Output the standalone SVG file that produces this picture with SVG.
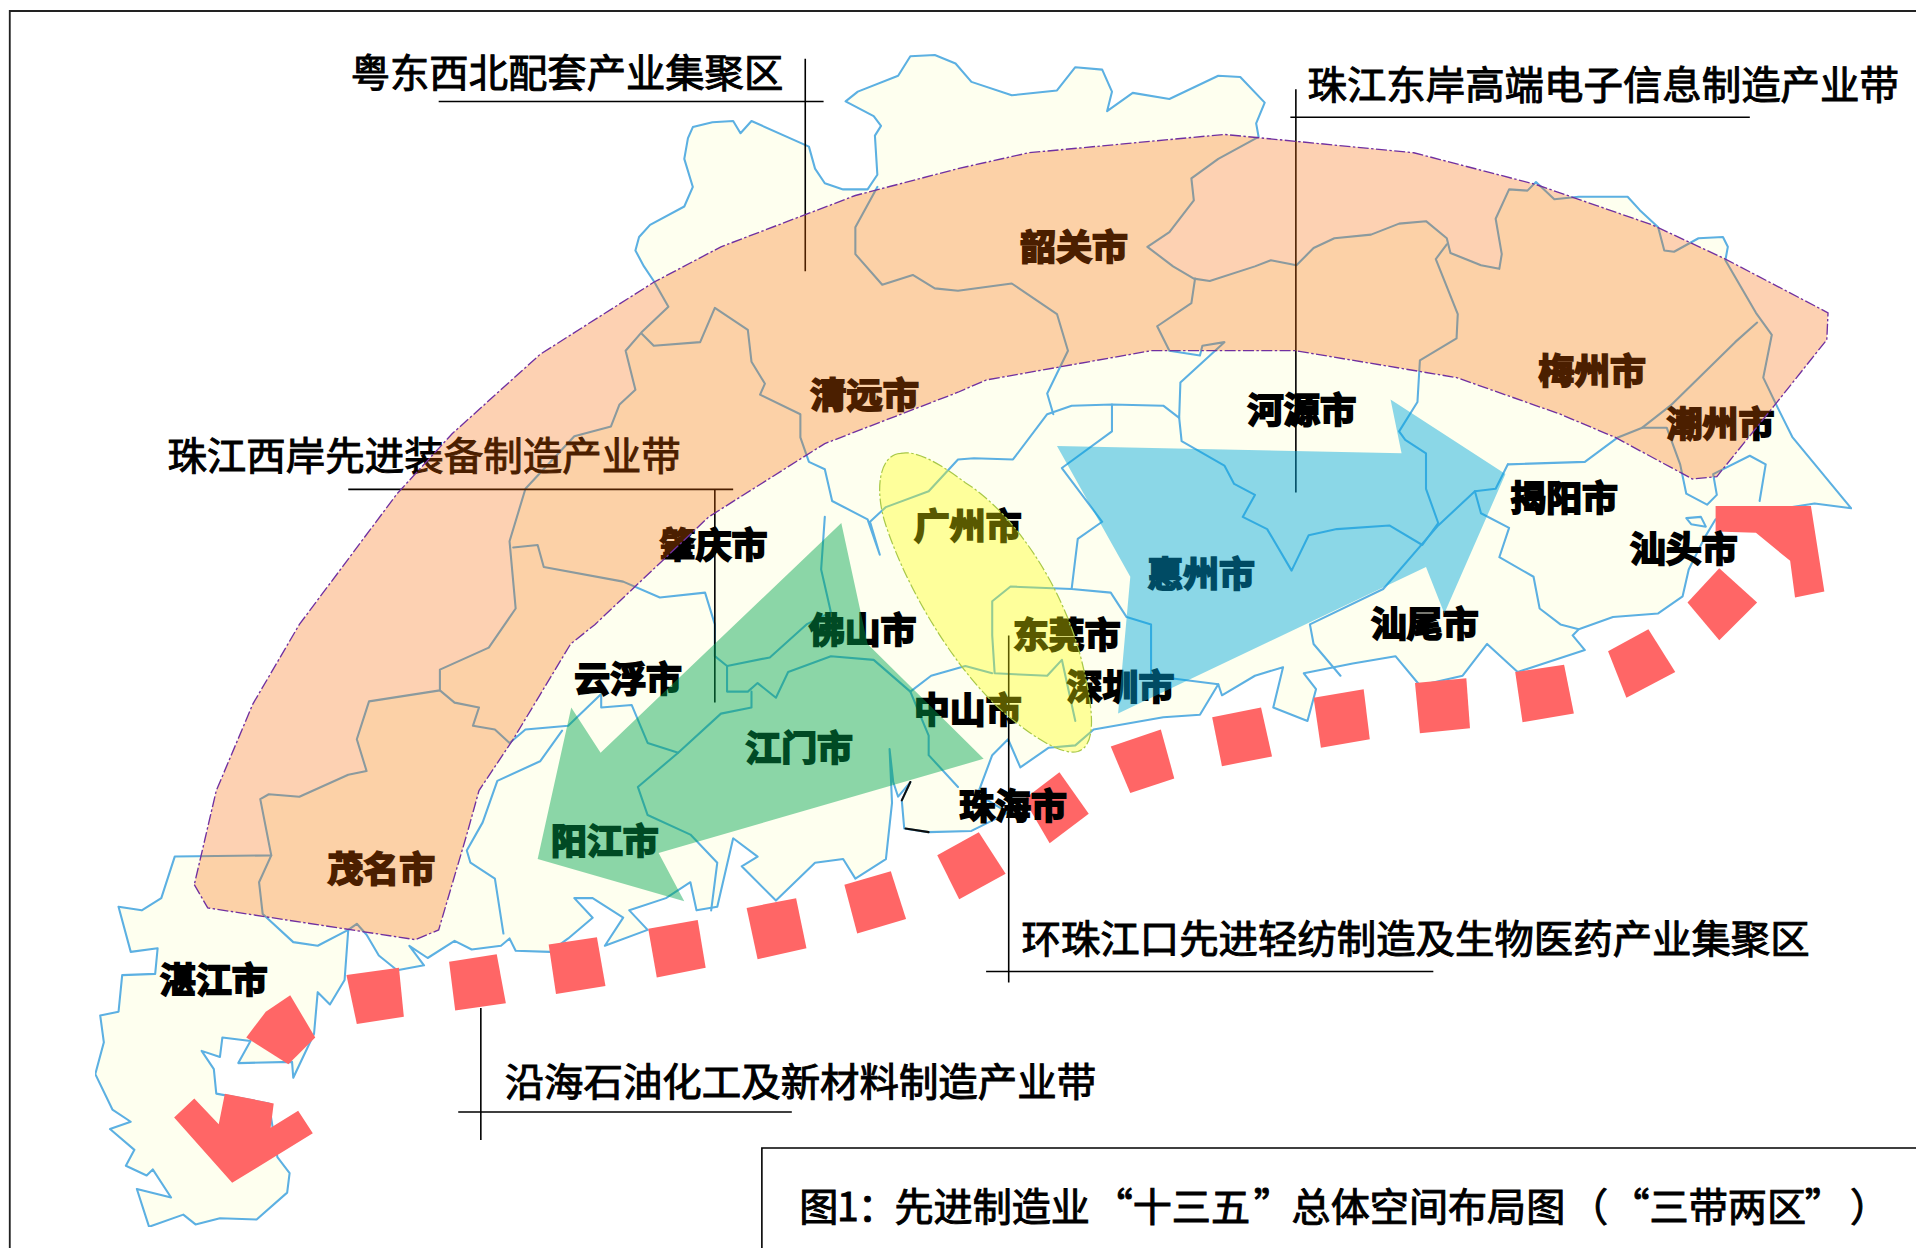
<svg xmlns="http://www.w3.org/2000/svg" width="1916" height="1248" viewBox="0 0 1916 1248">
<style>
.map{fill:#feffef;stroke:#5cb0e2;stroke-width:1.7;stroke-linejoin:round;stroke-linecap:round}
.riv{fill:none;stroke:#5cb0e2;stroke-width:1.7;stroke-linejoin:round;stroke-linecap:round}
.red{fill:#ff6666}
.lead{stroke:#000;stroke-width:1.3;fill:none}
.t{font-family:"Noto Sans CJK SC","Liberation Sans",sans-serif;font-size:32px;fill:#000;stroke:#000;stroke-width:.8}
.c{font-family:"Noto Sans CJK SC","Liberation Sans",sans-serif;font-size:29px;font-weight:700;fill:#000;stroke:#000;stroke-width:1.6}
</style>
<defs><filter id="soft" x="0" y="0" width="1" height="1"><feGaussianBlur stdDeviation=".45"/></filter></defs>
<rect width="1916" height="1248" fill="#fff"/>
<g transform="scale(1.22194)">
<path d="M8,1022V9H1568" fill="none" stroke="#222" stroke-width="1.5"/>
<g id="map" filter="url(#soft)">
<path class="map" d="M535,230L527,218L520,205L523,194L532,184L560,169L567,153L560,130L563,113L567,104L583,100L600,99L606,109L615,99L662,120L667,138L675,150L690,155L710,155L718,143L716,111L721,103L715,95L692,83L702,75L735,62L745,46L765,45L782,52L795,67L828,78L865,74L880,55L902,57L910,75L906,91L927,76L957,81L997,62L1015,63L1035,84L1028,101L1030,112L997,130L975,146L977,164L957,190L939,202L960,218L977,228L990,230L1027,218L1040,213L1061,217L1075,203L1092,195L1122,192L1145,183L1167,181L1184,195L1187,207L1212,217L1227,220L1229,208L1224,179L1235,155L1250,156L1257,149L1272,163L1292,161L1332,161L1342,172L1357,186L1362,205L1370,206L1390,195L1410,194L1414,202L1412,213L1437,256L1450,274L1443,309L1455,334L1467,358L1515,416L1485,412L1404,425L1395,440L1382,466L1377,488L1357,502L1320,505L1292,515L1287,520L1297,532L1242,550L1217,527L1197,553L1162,561L1142,537L1107,543L1067,551L1077,564L1070,590L1042,579L1050,546L1027,553L1000,569L997,560L982,585L952,587L895,597L880,610L858,612L835,628L825,605L812,618L800,650L825,665L795,680L760,681L740,678L738,655L745,640L735,652L731,640L728,613L730,657L725,703L700,719L690,703L667,706L635,737L607,709L620,701L600,686L587,742L570,745L565,722L545,735L515,745L530,761L495,774L510,751L485,735L470,735L485,751L465,768L450,779L422,778L417,768L410,774L386,777L372,770L350,784L335,774L347,790L325,794L310,782L300,765L292,756L285,761L282,802L270,822L260,812L257,846L240,882L239,869L195,870L205,852L182,849L180,865L165,860L175,875L177,895L220,903L227,947L237,960L235,976L210,998L180,997L160,1002L150,994L122,1004L112,973L140,980L125,957L120,962L103,954L110,941L90,924L107,918L92,908L78,879L85,853L82,831L97,828L100,798L127,797L129,776L107,779L97,742L116,745L132,735L143,701L222,700L213,654L220,650L245,652L285,634L300,631L292,605L302,574L360,565L360,548L400,530L422,498L417,443L430,400L470,357L500,349L507,331L520,319L512,287L525,272L547,251Z"/>
<path class="riv" d="M525,273L535,283L573,280L585,252L612,270L615,296L626,314L622,323L655,339L655,358L662,378L675,384L681,410L710,425L720,454L712,427L725,415L760,402L784,376L797,375L829,376L857,339L877,332L910,331L952,332L965,342L966,313L1002,280L984,283L982,291L957,287L947,267L975,248L978,228"/>
<path class="riv" d="M718,153L700,186L700,208L722,233L747,225L765,236L784,238L828,232L865,257L874,287L857,322L862,339"/>
<path class="riv" d="M1184,200L1175,212L1193,257L1192,277L1162,295L1160,329L1145,353L1150,360L1167,371L1167,400L1177,428L1164,446L1137,430L1094,433L1071,438L1057,467L1037,433L1017,423L1027,405L1010,396L1002,381L967,361L965,342"/>
<path class="riv" d="M910,331L910,353L869,383L902,427L882,441L877,482L909,485L922,505L942,511L942,553L997,560"/>
<path class="riv" d="M877,482L827,480L812,492L812,520L814,551L857,553L869,540L880,590"/>
<path class="riv" d="M1234,380L1297,378L1324,358L1344,350L1364,350L1375,380L1380,404L1397,413L1405,405L1402,388L1432,373L1445,380L1440,410"/>
<path class="riv" d="M1234,380L1224,400L1207,402L1177,430L1132,482L1072,511L1075,527L1097,553"/>
<path class="riv" d="M1207,402L1212,420L1235,432L1227,456L1255,472L1260,498L1277,511L1292,515"/>
<path class="riv" d="M1344,350L1367,332L1420,280L1438,264"/>
<path class="riv" d="M420,448L440,446L445,464L510,476L540,489L577,485L585,511L585,537L595,545L630,538L660,511L680,501L672,466L675,423"/>
<path class="riv" d="M595,545L595,566L612,566L620,559L635,571L645,550L680,537L715,540L745,566L760,602L760,618L784,644"/>
<path class="riv" d="M615,566L615,579L590,584L555,616L522,644L530,667L565,683L587,706L582,745"/>
<path class="riv" d="M555,616L530,608L517,577L492,579L492,568L465,594L430,597L417,608L405,597L387,594L392,579L372,575L360,565"/>
<path class="riv" d="M460,598L442,623L407,639L395,673L382,696L385,706L405,719L412,764"/>
<path class="riv" d="M222,700L212,722L215,748L240,771L260,774L285,761"/>
<path class="riv" d="M745,566L762,553L790,545L812,551"/>
<path class="map" d="M1380,424L1392,423L1396,431L1384,429Z"/>
<path class="riv" style="stroke:#111" d="M738,655L745,640M741,678L760,681"/>
</g>
<g id="dashes" class="red">
<polygon points="283.5,798 326.5,792 330.5,832 292,838"/>
<polygon points="367.5,787 406.5,781 414,821 372.5,827"/>
<polygon points="449,773 488.5,767 495.5,807 455,813.5"/>
<polygon points="530.5,760 571,753 577.5,792 537.5,800"/>
<polygon points="611,743 651.5,735 660,776 620,785"/>
<polygon points="691,724 729,713 741.5,752 701.5,764"/>
<polygon points="767,700 801,681 823,715 785,736"/>
<polygon points="867,632 891,666 859,690 838,654"/>
<polygon points="909,611 950,597 961,637 925,649"/>
<polygon points="992,587 1032,579 1041,619 1000,627"/>
<polygon points="1075,571 1116,564 1121,605 1081,612"/>
<polygon points="1158,559 1200,555 1203,596 1162,600"/>
<polygon points="1240,550 1280,544 1288,584 1246,591"/>
<polygon points="1316,533 1349,515 1371,550 1331,571"/>
<polygon points="1407,465 1438,493 1407,524 1381,493"/>
<polygon points="1404,414 1482,414 1493,484 1469,489 1465,459 1437,436 1404,435"/>
<polygon points="237.5,814.5 258,849 236,871 201.5,849 217.5,828"/>
<polygon points="159,899 179,920 184,895 224,903 221.5,923 244,909 256,927.5 190,968 142.5,914.5"/>
</g>
<g id="leaders" class="lead">
<path d="M359,83H674M659,48V222"/>
<path d="M1056,96H1432M1060.500,73V403"/>
<path d="M285,400.500H600M585,400V575"/>
<path d="M807,795H1173M825.500,520V804"/>
<path d="M375,910H648M393.500,825V933"/>
<path d="M623.500,1022V939.500H1568"/>
</g>
<g id="titles" class="t">
<text x="287" y="71" textLength="354" lengthAdjust="spacingAndGlyphs">粤东西北配套产业集聚区</text>
<text x="1070" y="81" textLength="484" lengthAdjust="spacingAndGlyphs">珠江东岸高端电子信息制造产业带</text>
<text x="137" y="385" textLength="420" lengthAdjust="spacingAndGlyphs">珠江西岸先进装备制造产业带</text>
<text x="836" y="780" textLength="645" lengthAdjust="spacingAndGlyphs">环珠江口先进轻纺制造及生物医药产业集聚区</text>
<text x="413" y="897" textLength="484" lengthAdjust="spacingAndGlyphs">沿海石油化工及新材料制造产业带</text>
<text y="999" x="654 685 702 732 764 796 828 860 895 927 959 991 1026 1057 1089 1121 1153 1185 1217 1249 1284 1318 1350 1382 1414 1446 1477 1514">图1：先进制造业“十三五”总体空间布局图（“三带两区”）</text>
</g>
<g id="cities" class="c">
<text x="835" y="213" textLength="88" lengthAdjust="spacingAndGlyphs">韶关市</text>
<text x="663" y="334" textLength="89" lengthAdjust="spacingAndGlyphs">清远市</text>
<text x="540" y="457" textLength="88" lengthAdjust="spacingAndGlyphs">肇庆市</text>
<text x="1021" y="346" textLength="89" lengthAdjust="spacingAndGlyphs">河源市</text>
<text x="1259" y="314" textLength="88" lengthAdjust="spacingAndGlyphs">梅州市</text>
<text x="1364" y="358" textLength="88" lengthAdjust="spacingAndGlyphs">潮州市</text>
<text x="1236" y="418" textLength="88" lengthAdjust="spacingAndGlyphs">揭阳市</text>
<text x="1334" y="460" textLength="88" lengthAdjust="spacingAndGlyphs">汕头市</text>
<text x="748" y="441" textLength="88" lengthAdjust="spacingAndGlyphs">广州市</text>
<text x="939" y="480" textLength="88" lengthAdjust="spacingAndGlyphs">惠州市</text>
<text x="662" y="526" textLength="88" lengthAdjust="spacingAndGlyphs">佛山市</text>
<text x="829" y="530" textLength="88" lengthAdjust="spacingAndGlyphs">东莞市</text>
<text x="1122" y="521" textLength="88" lengthAdjust="spacingAndGlyphs">汕尾市</text>
<text x="873" y="573" textLength="88" lengthAdjust="spacingAndGlyphs">深圳市</text>
<text x="470" y="566" textLength="88" lengthAdjust="spacingAndGlyphs">云浮市</text>
<text x="748" y="592" textLength="88" lengthAdjust="spacingAndGlyphs">中山市</text>
<text x="610" y="623" textLength="88" lengthAdjust="spacingAndGlyphs">江门市</text>
<text x="785" y="670" textLength="88" lengthAdjust="spacingAndGlyphs">珠海市</text>
<text x="451" y="699" textLength="88" lengthAdjust="spacingAndGlyphs">阳江市</text>
<text x="268" y="722" textLength="88" lengthAdjust="spacingAndGlyphs">茂名市</text>
<text x="131" y="813" textLength="88" lengthAdjust="spacingAndGlyphs">湛江市</text>
</g>
<g id="overlays">
<path id="band" fill="#f86600" fill-opacity=".3" stroke="#7030a0" stroke-width="1.1" stroke-dasharray="9 2 2 2" d="M159,724L170,743L340,769L359,761L382,683L392,647L420,605L467,527L487,511L580,423L675,363L784,321L807,311L942,287L1060,287L1192,309L1277,339L1322,358L1385,392L1405,390L1452,332L1495,278L1496,256L1412,212L1352,184L1257,151L1157,125L1002,110L842,125L784,138L700,160L590,202L535,231L442,290L370,355L325,404L245,511L207,576L177,647Z"/>
<polygon id="green" fill="#00a550" fill-opacity=".45" points="688.500,428 710,527 805,621 539,698 560,737.500 440,703 467.500,579 491.500,616"/>
<polygon id="blue" fill="#00a7de" fill-opacity=".45" points="865,365 1147,371 1138,327 1232,388 1182,502 1167,464 915,584 925,472"/>
<path id="yellow" fill="#ffff00" fill-opacity=".35" stroke="#a8c848" stroke-width="1" stroke-dasharray="9 2 2 2" d="M737,371C720,372 715,400 725,430C745,490 790,560 830,590C850,606 870,618 882,615C898,610 895,580 885,540C870,480 830,420 790,395C770,380 750,368 737,371Z"/>
</g>
</g>
</svg>
